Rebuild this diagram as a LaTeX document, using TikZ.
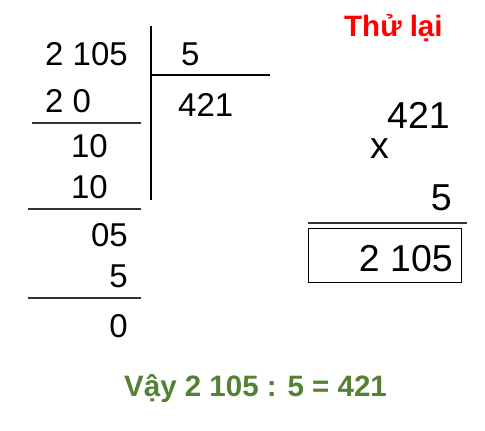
\documentclass[tikz,border=0pt]{standalone}
\usepackage{fontspec}
\setmainfont{Liberation Sans}
\definecolor{vgreen}{RGB}{84,130,53}
\definecolor{vred}{RGB}{255,0,0}
\begin{document}
\begin{tikzpicture}[x=1pt,y=-1pt,
  num/.style={inner sep=0pt,font=\fontsize{33}{38}\selectfont},
  bignum/.style={inner sep=0pt,font=\fontsize{37.5}{44}\selectfont},
  rule/.style={line width=1.3pt,draw=black!80},
  bar/.style={line width=2pt,draw=black}]
\useasboundingbox (0,0) rectangle (485,431);
% division
\node[num,anchor=base west] (dividend) at (45,65) {2 105};
\node[num,anchor=base west] (divisor) at (181,65) {5};
\node[num,anchor=base west] (quot) at (178,116) {421};
\node[num,anchor=base west] (s1) at (45,112) {2 0};
\node[num,anchor=base east] (r1) at (108,157) {10};
\node[num,anchor=base east] (s2) at (108,198) {10};
\node[num,anchor=base east] (r2) at (128,246) {05};
\node[num,anchor=base east] (s3) at (128,287) {5};
\node[num,anchor=base east] (r3) at (128,337) {0};
\coordinate (vt) at (151,26);
\coordinate (vb) at (151,200);
\coordinate (hl) at (151,75);
\coordinate (hr) at (270,75);
\draw[bar] (vt) -- (vb);
\draw[bar] (hl) -- (hr);
\coordinate (l1a) at (32,123); \coordinate (l1b) at (141,123);
\coordinate (l2a) at (28,209); \coordinate (l2b) at (141,209);
\coordinate (l3a) at (28,298); \coordinate (l3b) at (141,298);
\draw[rule] (l1a) -- (l1b);
\draw[rule] (l2a) -- (l2b);
\draw[rule] (l3a) -- (l3b);
% check
\node[inner sep=0pt,anchor=base west,text=vred,font=\fontsize{29.5}{34}\selectfont\bfseries] (title) at (344,36) {Thử lại};
\node[bignum,anchor=base east] (m1) at (450,128) {421};
\node[bignum,anchor=base west] (times) at (370,158) {x};
\node[bignum,anchor=base east] (m2) at (452,210) {5};
\coordinate (pa) at (308,223); \coordinate (pb) at (467,223);
\draw[line width=1.2pt,draw=black!80] (pa) -- (pb);
\node[draw=black,line width=1pt,minimum width=153pt,minimum height=54pt,inner sep=0pt] (box) at (384.5,255) {};
\node[bignum,anchor=base east] (prod) at (453,271) {2 105};
% conclusion
\node[inner sep=0pt,anchor=base west,text=vgreen,font=\fontsize{29.5}{35}\selectfont\bfseries] (concl) at (124,396) {Vậy 2 105 : 5 = 421};
\end{tikzpicture}
\end{document}
